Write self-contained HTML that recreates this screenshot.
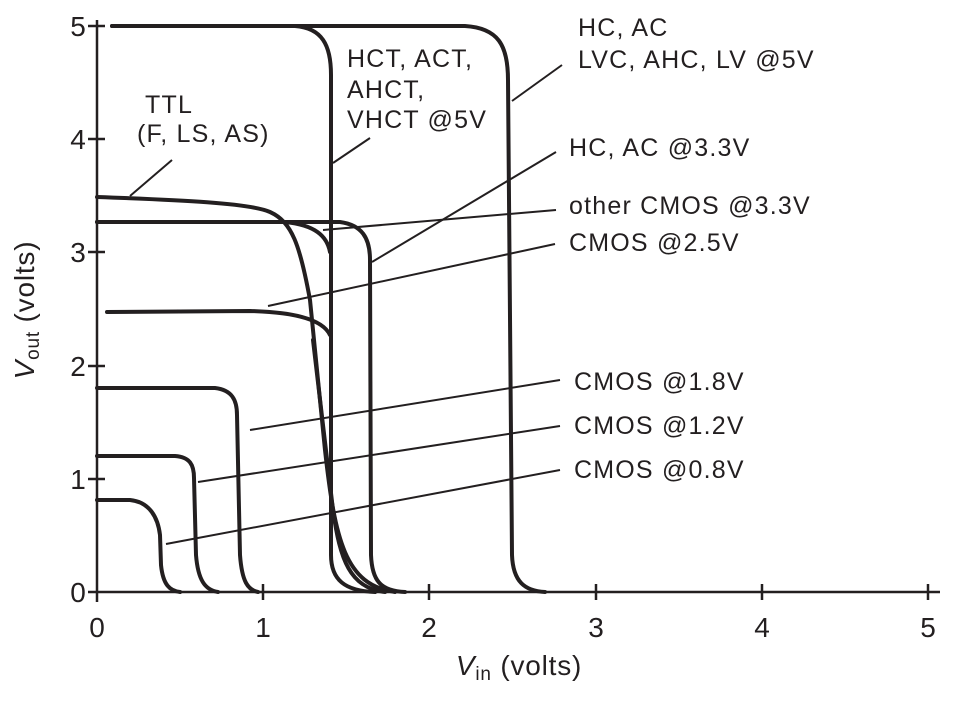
<!DOCTYPE html>
<html><head><meta charset="utf-8"><style>html,body{margin:0;padding:0;background:#fff}svg{display:block}</style></head>
<body>
<svg width="953" height="702" viewBox="0 0 953 702" xmlns="http://www.w3.org/2000/svg" font-family="Liberation Sans, sans-serif" fill="none" stroke="#231f20">
<!-- axes -->
<g stroke-width="2.5">
<line x1="97" y1="20" x2="97" y2="602"/>
<line x1="88" y1="592" x2="940" y2="592"/>
<line x1="88" y1="26" x2="105" y2="26"/>
<line x1="88" y1="139" x2="105" y2="139"/>
<line x1="88" y1="252" x2="105" y2="252"/>
<line x1="88" y1="366" x2="105" y2="366"/>
<line x1="88" y1="479" x2="105" y2="479"/>
<line x1="263" y1="584" x2="263" y2="600"/>
<line x1="429" y1="584" x2="429" y2="600"/>
<line x1="596" y1="584" x2="596" y2="600"/>
<line x1="762" y1="584" x2="762" y2="600"/>
<line x1="928" y1="584" x2="928" y2="600"/>
</g>
<!-- curves -->
<g stroke-width="4" stroke-linejoin="round" stroke-linecap="round">
<path d="M112,26 L295,26 C322,28 331,45 331,75 L331,555 C331,580 345,591 375,592"/>
<path d="M112,26 L465,26 C498,28 508,45 508,80 L512,555 C513,582 525,591 545,592"/>
<path d="M97,197 C180,200 250,203 270,212 C292,222 300,245 310,300 L325,450 C335,540 345,585 395,592"/>
<path d="M97,222 L285,222 C315,225 327,236 330,252"/>
<path d="M97,222 L340,222 C362,225 370,238 370,260 L371,555 C372,580 380,591 405,592"/>
<path d="M107,312 L250,311 C290,312 322,318 330,335"/>
<path d="M313,340 L333,510 C340,560 350,588 385,592"/>
<path d="M97,388 L215,388 C232,390 237,400 237,415 L240,555 C242,582 248,590 258,592"/>
<path d="M97,456 L175,456 C190,457 194,465 194,478 L196,555 C198,580 205,590 218,592"/>
<path d="M97,500 L130,500 C150,502 158,518 160,535 L161,565 C163,585 170,591 180,592"/>
</g>
<!-- leaders -->
<g stroke-width="2">
<line x1="130" y1="196" x2="172" y2="160"/>
<line x1="333" y1="163" x2="370" y2="138"/>
<line x1="512" y1="101" x2="562" y2="65"/>
<line x1="372" y1="262" x2="556" y2="152"/>
<line x1="323" y1="230" x2="556" y2="210"/>
<line x1="268" y1="306" x2="555" y2="244"/>
<line x1="250" y1="430" x2="560" y2="380"/>
<line x1="198" y1="482" x2="560" y2="426"/>
<line x1="166" y1="544" x2="560" y2="470"/>
</g>
<!-- text -->
<g fill="#231f20" stroke="none" font-size="25" letter-spacing="1.2">
<text x="578" y="36">HC, AC</text>
<text x="578" y="68">LVC, AHC, LV @5V</text>
<text x="347" y="67">HCT, ACT,</text>
<text x="347" y="98">AHCT,</text>
<text x="347" y="128">VHCT @5V</text>
<text x="145" y="113">TTL</text>
<text x="137" y="142">(F, LS, AS)</text>
<text x="569" y="156">HC, AC @3.3V</text>
<text x="569" y="214">other CMOS @3.3V</text>
<text x="569" y="251">CMOS @2.5V</text>
<text x="574" y="390">CMOS @1.8V</text>
<text x="574" y="434">CMOS @1.2V</text>
<text x="574" y="478">CMOS @0.8V</text>
</g>
<g fill="#231f20" stroke="none" font-size="28" text-anchor="middle">
<text x="78" y="36">5</text>
<text x="78" y="149">4</text>
<text x="78" y="262">3</text>
<text x="78" y="376">2</text>
<text x="78" y="489">1</text>
<text x="78" y="602">0</text>
<text x="97" y="637">0</text>
<text x="263" y="637">1</text>
<text x="429" y="637">2</text>
<text x="596" y="637">3</text>
<text x="762" y="637">4</text>
<text x="928" y="637">5</text>
<text x="519" y="675" letter-spacing="0.8"><tspan font-style="italic">V</tspan><tspan font-size="19" dy="5">in</tspan><tspan dy="-5"> (volts)</tspan></text>
<text transform="translate(34,310) rotate(-90)" letter-spacing="0.8"><tspan font-style="italic">V</tspan><tspan font-size="19" dy="5">out</tspan><tspan dy="-5"> (volts)</tspan></text>
</g>
</svg>
</body></html>
